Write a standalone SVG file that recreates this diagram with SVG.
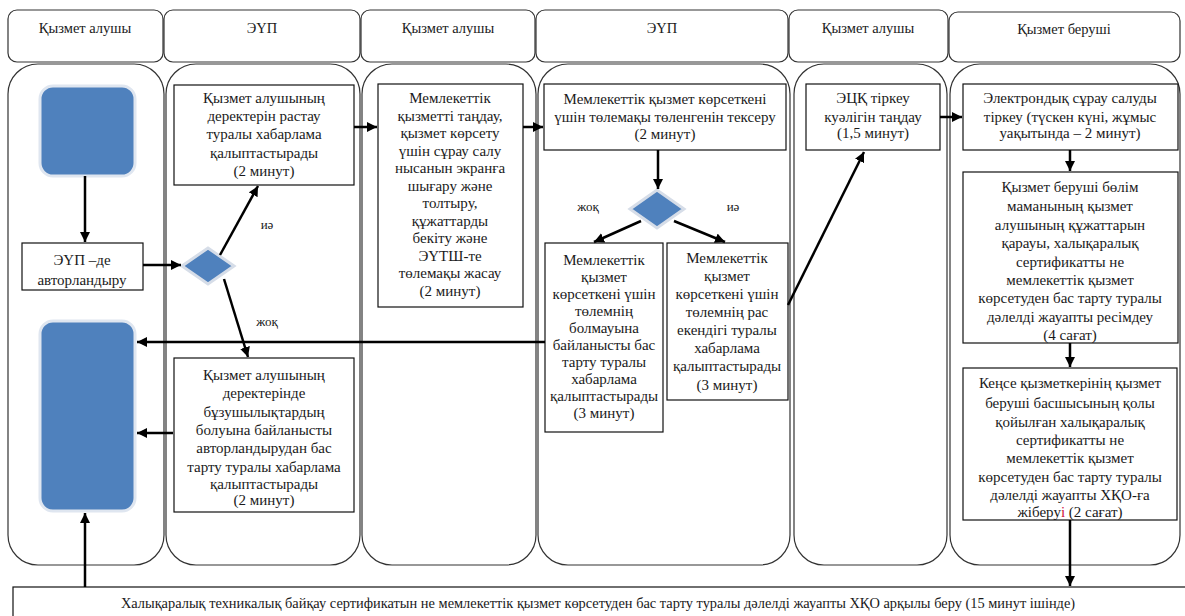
<svg xmlns="http://www.w3.org/2000/svg" width="1185" height="616" viewBox="0 0 1185 616">
<style>
.hdr{fill:#fff;stroke:#333;stroke-width:1.2}
.lane{fill:#fff;stroke:#333;stroke-width:1.2}
.box{fill:#fff;stroke:#111;stroke-width:1.2}
.blue{fill:#4f81bd;stroke:#dfe6f0;stroke-width:3}
.t{font-size:15px;fill:#1a1a1a;text-anchor:middle}
.h{font-size:14.5px;fill:#1a1a1a;text-anchor:middle}
.lb{font-size:13px;fill:#1a1a1a;text-anchor:middle}
.c{stroke:#000;stroke-width:2.5;fill:none;marker-end:url(#ah)}
</style>
<defs>
<marker id="ah" markerUnits="userSpaceOnUse" markerWidth="11" markerHeight="11" refX="10" refY="5" orient="auto">
<path d="M0,0 L10,5 L0,10 z" fill="#000"/>
</marker>
</defs>
<g font-family="'Liberation Serif', 'DejaVu Serif', serif">
<g id="headers">
<rect class="hdr" x="8" y="10" width="155" height="52" rx="9"/>
<rect class="hdr" x="164" y="10" width="196" height="52" rx="9"/>
<rect class="hdr" x="361" y="10" width="174" height="52" rx="9"/>
<rect class="hdr" x="536" y="10" width="252" height="52" rx="9"/>
<rect class="hdr" x="789" y="10" width="159" height="52" rx="9"/>
<rect class="hdr" x="949" y="12" width="231" height="50" rx="9"/>
<text class="h" x="85" y="33">Қызмет алушы</text>
<text class="h" x="262" y="33">ЭҮП</text>
<text class="h" x="448" y="33">Қызмет алушы</text>
<text class="h" x="662" y="33">ЭҮП</text>
<text class="h" x="868" y="33">Қызмет алушы</text>
<text class="h" x="1064" y="34">Қызмет беруші</text>
</g>

<g id="lanes">
<rect class="lane" x="8" y="64" width="156" height="501" rx="30"/>
<rect class="lane" x="166" y="64" width="194" height="501" rx="30"/>
<rect class="lane" x="362" y="64" width="174" height="501" rx="30"/>
<rect class="lane" x="538" y="64" width="252" height="501" rx="30"/>
<rect class="lane" x="794" y="64" width="153" height="501" rx="30"/>
<rect class="lane" x="950" y="64" width="230" height="501" rx="30"/>
</g>

<g id="start">
<rect class="blue" x="40" y="86" width="95" height="90" rx="13"/>
</g>

<g id="auth">
<rect class="box" x="22" y="243" width="121" height="47"/>
<text class="t" x="82" y="265">ЭҮП –де</text>
<text class="t" x="82" y="285">авторландыру</text>
</g>

<g id="dec1">
<polygon points="182,266 208,248 234,266 208,284" fill="#4f81bd" stroke="#d6dde8" stroke-width="3"/>
</g>

<g id="confirm">
<rect class="box" x="174" y="85" width="180" height="100"/>
<text class="t" x="264" y="103">Қызмет алушының</text>
<text class="t" x="264" y="121">деректерін растау</text>
<text class="t" x="264" y="139">туралы хабарлама</text>
<text class="t" x="264" y="158">қалыптастырады</text>
<text class="t" x="264" y="176">(2 минут)</text>
</g>

<g id="reject1">
<rect class="box" x="174" y="358" width="180" height="154"/>
<text class="t" x="264" y="380">Қызмет алушының</text>
<text class="t" x="264" y="398">деректерінде</text>
<text class="t" x="264" y="417">бұзушылықтардың</text>
<text class="t" x="264" y="435">болуына байланысты</text>
<text class="t" x="264" y="453">авторландырудан бас</text>
<text class="t" x="264" y="472">тарту туралы хабарлама</text>
<text class="t" x="264" y="489">қалыптастырады</text>
<text class="t" x="264" y="505">(2 минут)</text>
</g>

<g id="end">
<rect class="blue" x="40" y="321" width="95" height="190" rx="13"/>
</g>

<g id="select">
<rect class="box" x="378" y="84" width="145" height="223"/>
<text class="t" x="450" y="103">Мемлекеттік</text>
<text class="t" x="450" y="121">қызметті таңдау,</text>
<text class="t" x="450" y="138">қызмет көрсету</text>
<text class="t" x="450" y="156">үшін сұрау салу</text>
<text class="t" x="450" y="173">нысанын экранға</text>
<text class="t" x="450" y="191">шығару және</text>
<text class="t" x="450" y="208">толтыру,</text>
<text class="t" x="450" y="226">құжаттарды</text>
<text class="t" x="450" y="243">бекіту және</text>
<text class="t" x="450" y="261">ЭҮТШ-те</text>
<text class="t" x="450" y="278">төлемақы жасау</text>
<text class="t" x="450" y="296">(2 минут)</text>
</g>

<g id="check">
<rect class="box" x="544" y="84" width="242" height="66"/>
<text class="t" x="665" y="104">Мемлекеттік қызмет көрсеткені</text>
<text class="t" x="665" y="122">үшін төлемақы төленгенін тексеру</text>
<text class="t" x="665" y="139">(2 минут)</text>
</g>

<g id="dec2">
<polygon points="630,209 657,190 684,209 657,228" fill="#4f81bd" stroke="#d6dde8" stroke-width="3"/>
</g>

<g id="nopay">
<rect class="box" x="545" y="243" width="118" height="189"/>
<text class="t" x="604" y="265">Мемлекеттік</text>
<text class="t" x="604" y="282">қызмет</text>
<text class="t" x="604" y="299">көрсеткені үшін</text>
<text class="t" x="604" y="316">төлемнің</text>
<text class="t" x="604" y="333">болмауына</text>
<text class="t" x="604" y="350">байланысты бас</text>
<text class="t" x="604" y="367">тарту туралы</text>
<text class="t" x="604" y="384">хабарлама</text>
<text class="t" x="604" y="401">қалыптастырады</text>
<text class="t" x="604" y="418">(3 минут)</text>
</g>

<g id="paid">
<rect class="box" x="667" y="243" width="121" height="157"/>
<text class="t" x="727" y="263">Мемлекеттік</text>
<text class="t" x="727" y="281">қызмет</text>
<text class="t" x="727" y="299">көрсеткені үшін</text>
<text class="t" x="727" y="317">төлемнің рас</text>
<text class="t" x="727" y="335">екендігі туралы</text>
<text class="t" x="727" y="353">хабарлама</text>
<text class="t" x="727" y="371">қалыптастырады</text>
<text class="t" x="727" y="390">(3 минут)</text>
</g>

<g id="ecp">
<rect class="box" x="806" y="84" width="134" height="66"/>
<text class="t" x="873" y="103">ЭЦҚ тіркеу</text>
<text class="t" x="873" y="122">куәлігін таңдау</text>
<text class="t" x="873" y="138">(1,5 минут)</text>
</g>

<g id="register">
<rect class="box" x="963" y="84" width="215" height="66"/>
<text class="t" x="1070" y="103">Электрондық сұрау салуды</text>
<text class="t" x="1070" y="122">тіркеу (түскен күні, жұмыс</text>
<text class="t" x="1070" y="138">уақытында – 2 минут)</text>
</g>

<g id="review">
<rect class="box" x="963" y="172" width="215" height="171"/>
<text class="t" x="1070" y="192">Қызмет беруші бөлім</text>
<text class="t" x="1070" y="211">маманының қызмет</text>
<text class="t" x="1070" y="230">алушының құжаттарын</text>
<text class="t" x="1070" y="248">қарауы, халықаралық</text>
<text class="t" x="1070" y="267">сертификатты не</text>
<text class="t" x="1070" y="285">мемлекеттік қызмет</text>
<text class="t" x="1070" y="303">көрсетуден бас тарту туралы</text>
<text class="t" x="1070" y="322">дәлелді жауапты ресімдеу</text>
<text class="t" x="1070" y="340">(4 сағат)</text>
</g>

<g id="send">
<rect class="box" x="963" y="368" width="214" height="152"/>
<text class="t" x="1070" y="388">Кеңсе қызметкерінің қызмет</text>
<text class="t" x="1070" y="408">беруші басшысының қолы</text>
<text class="t" x="1070" y="427">қойылған халықаралық</text>
<text class="t" x="1070" y="445">сертификатты не</text>
<text class="t" x="1070" y="463">мемлекеттік қызмет</text>
<text class="t" x="1070" y="482">көрсетуден бас тарту туралы</text>
<text class="t" x="1070" y="500">дәлелді жауапты ХҚО-ға</text>
<text class="t" x="1070" y="517">жіберу<tspan fill="#d0103a">і</tspan> (2 сағат)</text>
</g>

<g id="result">
<rect class="box" x="13" y="587" width="1180" height="40"/>
<text class="lb" x="598" y="608" style="font-size:14.4px">Халықаралық техникалық байқау сертификатын не мемлекеттік қызмет көрсетуден бас тарту туралы дәлелді жауапты ХҚО арқылы беру (15 минут ішінде)</text>
</g>

<g id="connectors">
<line class="c" x1="85" y1="176" x2="85" y2="242"/>
<line class="c" x1="143" y1="265" x2="181" y2="265"/>
<line class="c" x1="220" y1="255" x2="258" y2="186"/>
<line class="c" x1="224" y1="279" x2="248" y2="357"/>
<line class="c" x1="354" y1="127" x2="377" y2="127"/>
<line class="c" x1="523" y1="127" x2="543" y2="127"/>
<line class="c" x1="658" y1="150" x2="658" y2="189"/>
<line class="c" x1="641" y1="221" x2="594" y2="242"/>
<line class="c" x1="674" y1="221" x2="725" y2="242"/>
<line class="c" x1="545" y1="342" x2="137" y2="342"/>
<line class="c" x1="173" y1="433" x2="137" y2="433"/>
<line class="c" x1="85" y1="587" x2="85" y2="513"/>
<line class="c" x1="788" y1="305" x2="864" y2="152"/>
<line class="c" x1="940" y1="117" x2="962" y2="117"/>
<line class="c" x1="1070" y1="150" x2="1070" y2="171"/>
<line class="c" x1="1070" y1="343" x2="1070" y2="367"/>
<line class="c" x1="1070" y1="520" x2="1070" y2="586"/>
<text class="lb" x="267" y="229">иә</text>
<text class="lb" x="267" y="326">жоқ</text>
<text class="lb" x="588" y="211">жоқ</text>
<text class="lb" x="733" y="211">иә</text>
</g>
</g>
</svg>
